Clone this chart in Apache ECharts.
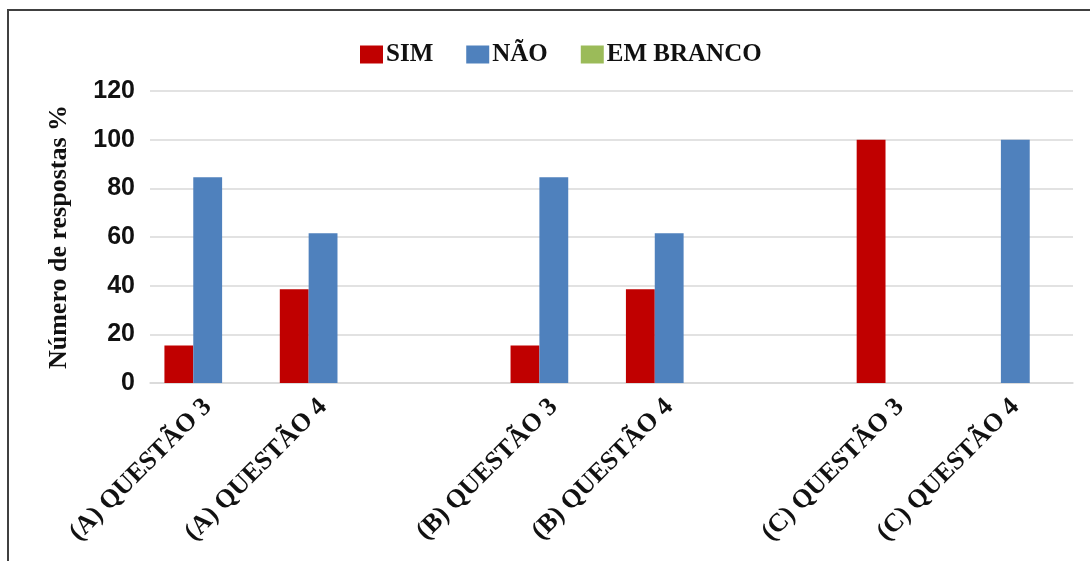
<!DOCTYPE html>
<html>
<head>
<meta charset="utf-8">
<script src="https://cdn.jsdelivr.net/npm/echarts@6/dist/echarts.min.js"></script>
<style>
  html, body { margin: 0; padding: 0; background: #fff; }
  #chart { width: 1090px; height: 561px; }
</style>
</head>
<body>
<div id="chart"></div>
<script>
// categorias (as vazias abrem espaço entre os grupos A, B e C)
const categories = ['(A) QUESTÃO 3', '(A) QUESTÃO 4', '', '(B) QUESTÃO 3', '(B) QUESTÃO 4', '', '(C) QUESTÃO 3', '(C) QUESTÃO 4'];
const seriesNames = ['SIM', 'NÃO', 'EM BRANCO'];
const simValues = [15.4, 38.5, null, 15.4, 38.5, null, 100, 0];
const naoValues = [84.6, 61.5, null, 84.6, 61.5, null, 0, 100];
const brancoValues = [0, 0, null, 0, 0, null, 0, 0];
const yTicks = [0, 20, 40, 60, 80, 100, 120];

const colors = ['#C00000', '#4F81BD', '#9BBB59'];
const serif = '"Liberation Serif", "Times New Roman", serif';
const sans = '"Liberation Sans", Arial, sans-serif';

let myChart = echarts.init(document.getElementById('chart'));

let option = {
  animation: false,
  color: colors,
  graphic: [
    {
      type: 'rect',
      shape: { x: 8, y: 10, width: 1200, height: 700 },
      style: { fill: 'none', stroke: '#404040', lineWidth: 2 },
      silent: true,
    },
  ],
  legend: {
    left: 355,
    top: 37,
    itemWidth: 23,
    itemHeight: 18,
    itemGap: 33,
    icon: 'rect',
    selectedMode: false,
    textStyle: { fontFamily: serif, fontWeight: 'bold', fontSize: 25, color: '#111', padding: [0, 0, 0, -2] },
    data: seriesNames,
  },
  grid: {
    left: 150,
    right: 17,
    top: 91,
    bottom: 178,
  },
  xAxis: {
    type: 'category',
    data: categories,
    axisTick: { show: false },
    axisLine: { show: true, lineStyle: { color: '#d9d9d9', width: 1.5 } },
    axisLabel: {
      interval: 0,
      rotate: 45,
      margin: 20,
      fontFamily: serif,
      fontWeight: 'bold',
      fontSize: 26,
      color: '#111',
    },
  },
  yAxis: {
    type: 'value',
    min: yTicks[0],
    max: yTicks[yTicks.length - 1],
    interval: 20,
    name: 'Número de respostas %',
    nameLocation: 'middle',
    nameGap: 78,
    nameTextStyle: { fontFamily: serif, fontWeight: 'bold', fontSize: 26, color: '#111' },
    axisLine: { show: false },
    axisTick: { show: false },
    axisLabel: { fontFamily: sans, fontWeight: 'bold', fontSize: 25, color: '#111', margin: 15 },
    splitLine: { lineStyle: { color: '#d9d9d9', width: 1.5 } },
  },
  series: [
    { name: seriesNames[0], type: 'bar', data: simValues, barGap: 0, barCategoryGap: '25%' },
    { name: seriesNames[1], type: 'bar', data: naoValues, barGap: 0, barCategoryGap: '25%' },
    { name: seriesNames[2], type: 'bar', data: brancoValues, barGap: 0, barCategoryGap: '25%' },
  ],
};

myChart.setOption(option);
</script>
</body>
</html>
